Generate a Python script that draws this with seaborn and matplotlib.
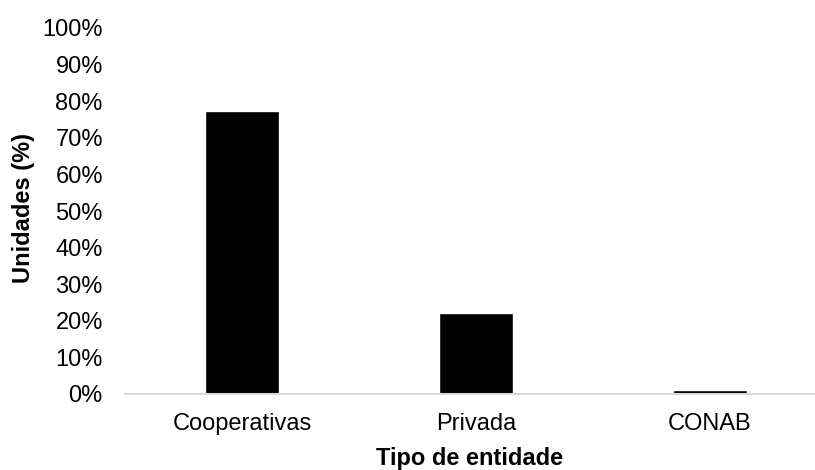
import matplotlib
matplotlib.use("Agg")
import matplotlib.pyplot as plt
import seaborn as sns
import pandas as pd
from matplotlib.ticker import PercentFormatter, MultipleLocator

categories = ["Cooperativas", "Privada", "CONAB"]
values = [0.774, 0.221, 0.011]
x_label = "Tipo de entidade"
y_label = "Unidades (%)"

sns.set_theme(style="white")
plt.rcParams["font.family"] = ["Liberation Sans", "DejaVu Sans"]

df = pd.DataFrame({"cat": categories, "val": values})

W, H = 815, 470
fig = plt.figure(figsize=(W / 100, H / 100), dpi=100)
ax = fig.add_axes([125 / W, 1 - 394 / H, (W - 125) / W, (394 - 28) / H])

sns.barplot(data=df, x="cat", y="val", color="black", saturation=1,
            width=0.316, ax=ax)

ax.set_ylim(0, 1)
ax.set_xlim(-0.5, 2.5 - 12 / 234)
ax.yaxis.set_major_locator(MultipleLocator(0.1))
ax.yaxis.set_major_formatter(PercentFormatter(1.0, decimals=0))

for s in ["top", "right", "left"]:
    ax.spines[s].set_visible(False)
ax.spines["bottom"].set_color("#d9d9d9")
ax.spines["bottom"].set_linewidth(1.5)

ax.tick_params(axis="y", length=0, pad=16, labelsize=17, labelcolor="black")
ax.tick_params(axis="x", length=0, pad=14, labelsize=17, labelcolor="black")

ax.set_xlabel(x_label, fontsize=17, fontweight="bold", color="black", labelpad=8)
ax.set_ylabel(y_label, fontsize=17, fontweight="bold", color="black")
ax.yaxis.set_label_coords(-((125 - 35) / (W - 125)), (394 - 208) / 366)

fig.savefig("out.png", dpi=100)
